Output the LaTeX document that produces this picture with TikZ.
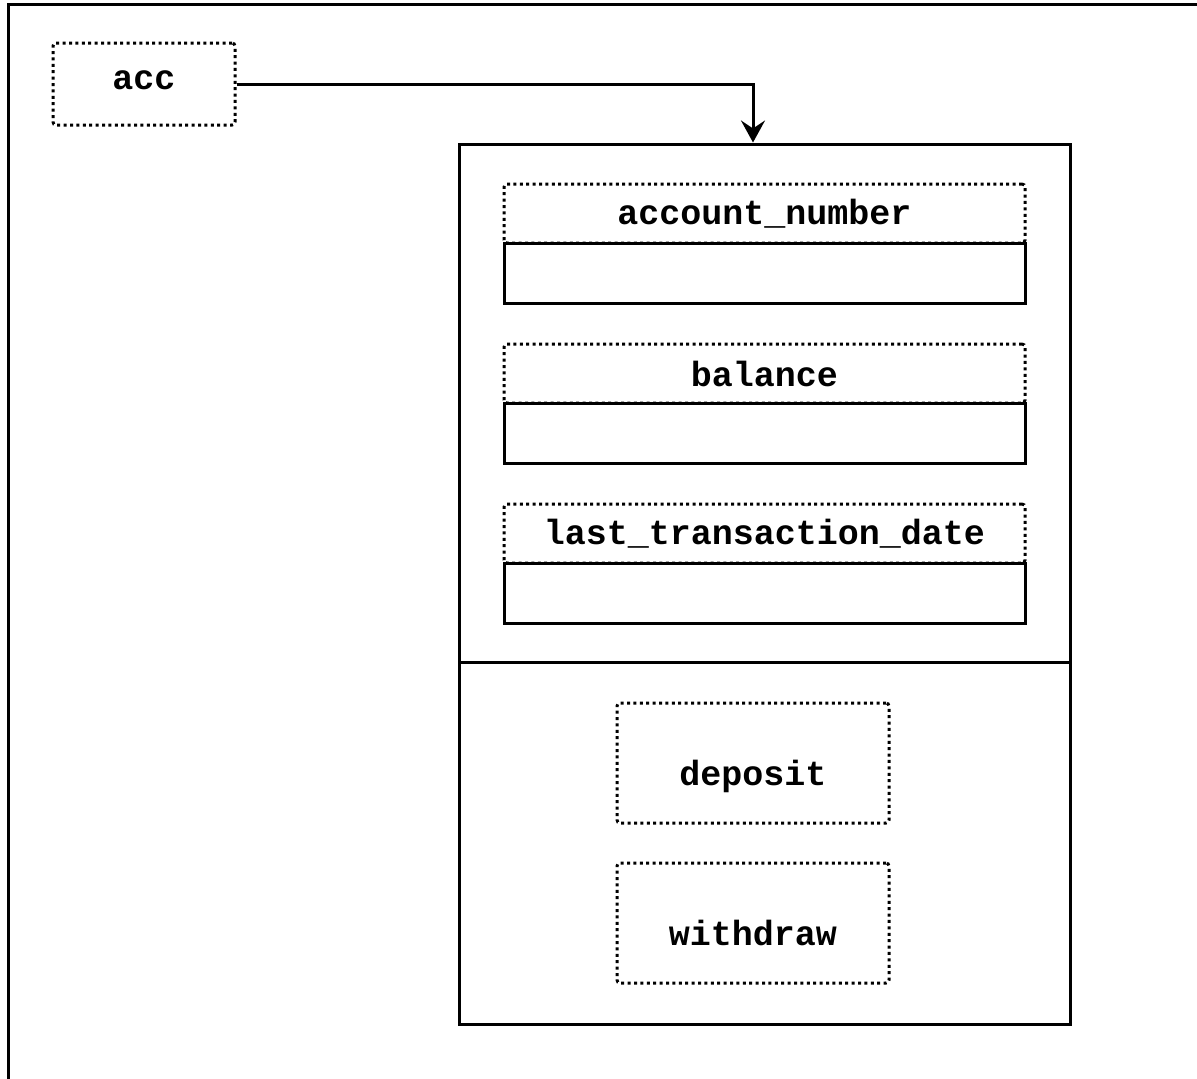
\documentclass[tikz,border=0pt]{standalone}
\usepackage{fontspec}
\setmonofont{Liberation Mono}
\usetikzlibrary{arrows.meta}
\begin{document}
\begin{tikzpicture}[x=1pt,y=-1pt,
  lbl/.style={font=\ttfamily\bfseries\fontsize{35}{40}\selectfont},
  dotbox/.style={draw, line width=3pt, dash pattern=on 3pt off 3.4pt, rounded corners=3pt, inner sep=0pt, lbl},
  methbox/.style={dotbox, minimum width=272pt, minimum height=120pt, text height=50pt, text depth=6pt},
  solidbox/.style={draw, line width=3pt, inner sep=0pt},
  conn/.style={line width=3pt, -{Stealth[length=22pt,width=24pt,inset=8pt]}}]
\useasboundingbox (0,0) rectangle (1197,1079);
\clip (0,0) rectangle (1197,1079);
\draw[line width=3pt] (8.5,1100) -- (8.5,4.5) -- (1210,4.5);
% variable
\node[dotbox, minimum width=182pt, minimum height=82pt, text height=22pt, text depth=12pt] (acc) at (144,84) {acc};
% object
\node[solidbox, minimum width=611pt, minimum height=518pt] (objtop) at (764.5,403) {};
\node[solidbox, minimum width=611pt, minimum height=362pt] (objbot) at (764.5,843) {};
% fields
\node[dotbox, minimum width=521pt, minimum height=59pt] (f1) at (764.5,213.5) {account\_number};
\node[solidbox, minimum width=521pt, minimum height=60pt] (v1) at (764.5,273) {};
\node[dotbox, minimum width=521pt, minimum height=59pt] (f2) at (764.5,373.5) {balance};
\node[solidbox, minimum width=521pt, minimum height=60pt] (v2) at (764.5,433) {};
\node[dotbox, minimum width=521pt, minimum height=59pt] (f3) at (764.5,533.5) {last\_transaction\_date};
\node[solidbox, minimum width=521pt, minimum height=60pt] (v3) at (764.5,593) {};
% methods
\node[methbox] (m1) at (753,763) {deposit};
\node[methbox] (m2) at (753,923) {withdraw};
% reference
\draw[conn] (acc.east) -| ([xshift=-11.5pt]objtop.north);
\end{tikzpicture}
\end{document}
